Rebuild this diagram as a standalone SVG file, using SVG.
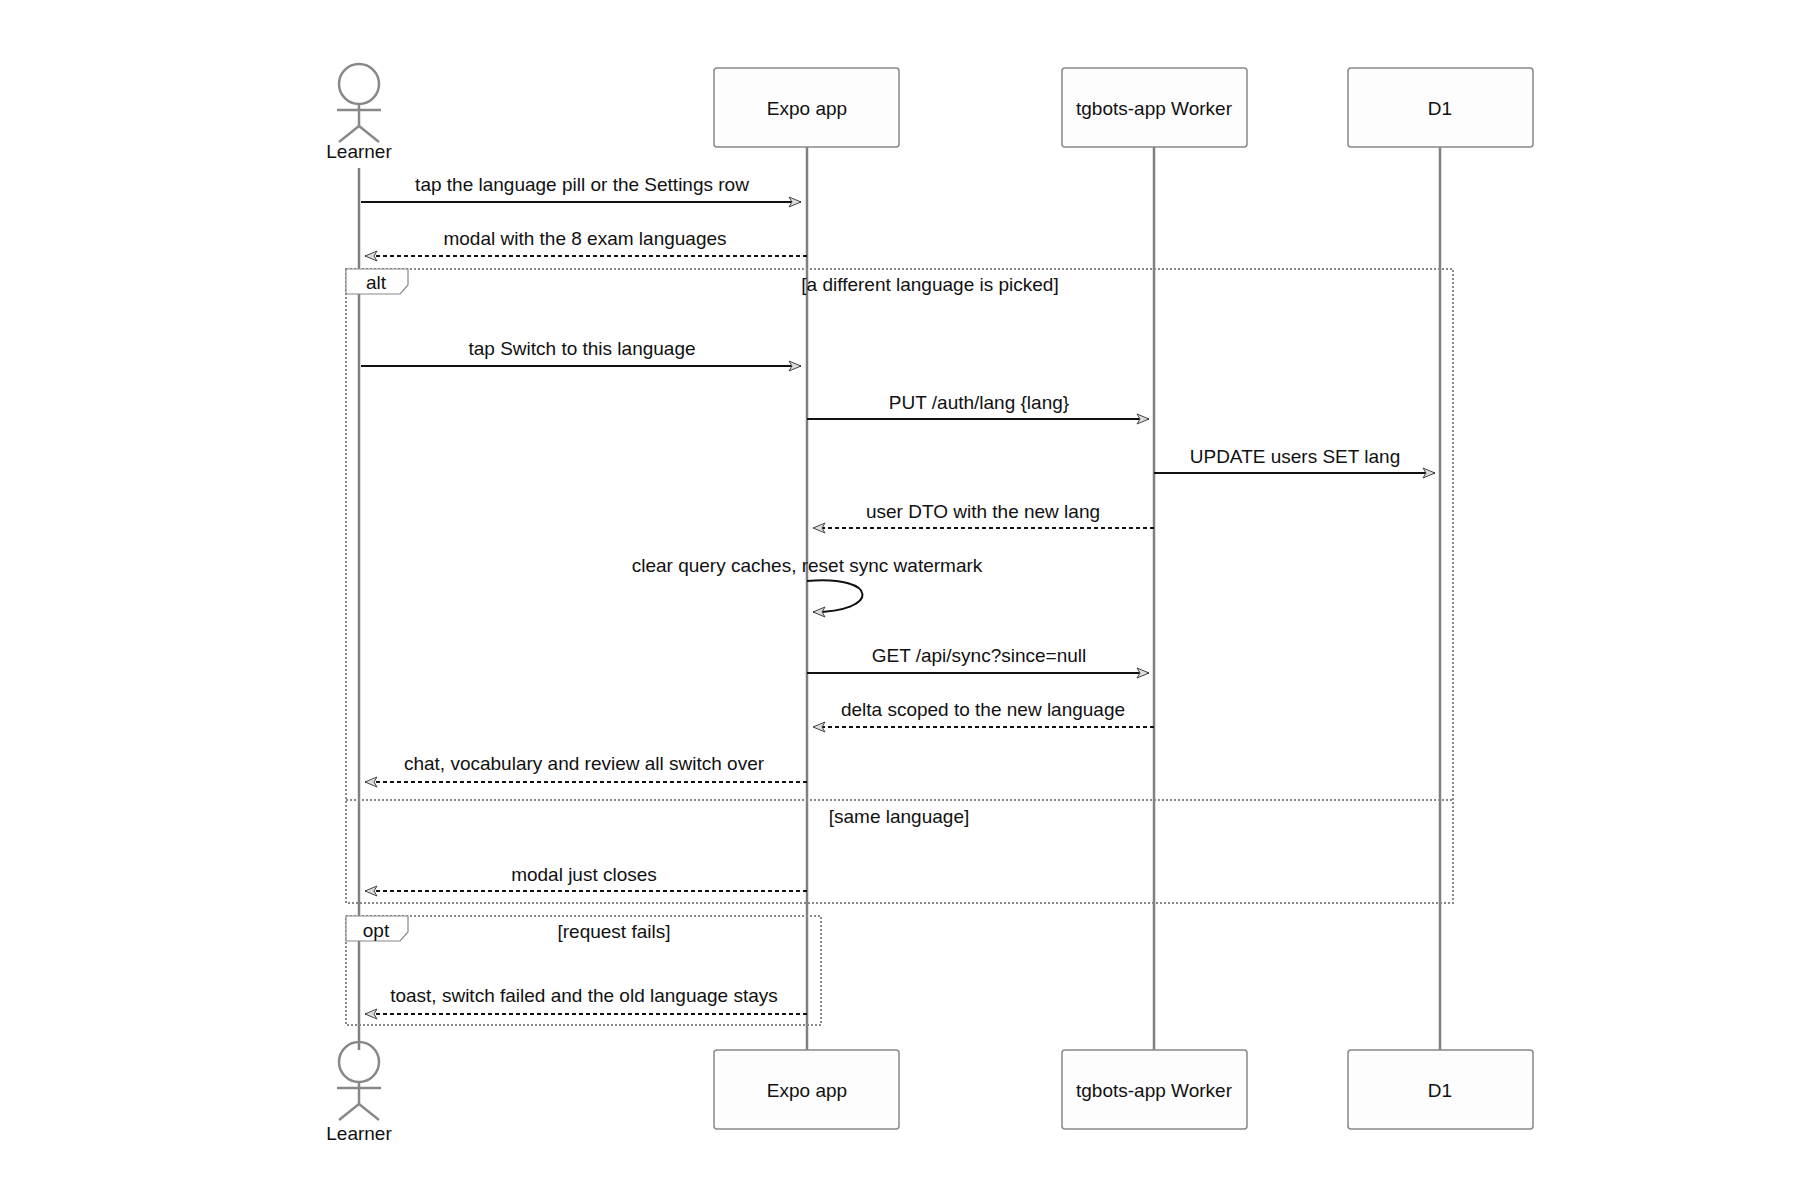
<svg xmlns="http://www.w3.org/2000/svg" width="1800" height="1200" viewBox="0 0 1800 1200">
<style>
text{font-family:"Liberation Sans",Arial,sans-serif;font-size:19px;fill:#111;text-anchor:middle;dominant-baseline:central}
.box{fill:#fdfdfd;stroke:#888;stroke-width:1.5}
.life{stroke:#808080;stroke-width:2.5}
.msg{stroke:#111;stroke-width:2;fill:none;marker-end:url(#ah)}
.dash{stroke-dasharray:4,3}
.frame{fill:none;stroke:#888;stroke-width:2;stroke-dasharray:2,2}
.lab{fill:#fff;stroke:#888;stroke-width:1.2}
.actor{fill:none;stroke:#888;stroke-width:2.5}
</style>
<defs>
<marker id="ah" markerWidth="14" markerHeight="12" refX="13" refY="6" orient="auto" markerUnits="userSpaceOnUse">
<path d="M1,1 L13,6 L1,11 L4,6 Z" fill="#ddd" stroke="#444" stroke-width="1"/>
</marker>
</defs>
<g id="lifelines">
<line class="life" x1="359" y1="168" x2="359" y2="1050"/>
<line class="life" x1="807" y1="147" x2="807" y2="1050"/>
<line class="life" x1="1154" y1="147" x2="1154" y2="1050"/>
<line class="life" x1="1440" y1="147" x2="1440" y2="1050"/>
</g>
<g id="learner-top"><circle class="actor" cx="359" cy="84" r="20"/><line class="actor" x1="359" y1="104" x2="359" y2="126"/><line class="actor" x1="337" y1="110" x2="381" y2="110"/><line class="actor" x1="359" y1="126" x2="339" y2="142"/><line class="actor" x1="359" y1="126" x2="379" y2="142"/><text x="359" y="151">Learner</text></g>
<g id="expo-top"><rect class="box" x="714" y="68" width="185" height="79" rx="3"/><text x="807" y="108">Expo app</text></g>
<g id="worker-top"><rect class="box" x="1062" y="68" width="185" height="79" rx="3"/><text x="1154" y="108">tgbots-app Worker</text></g>
<g id="d1-top"><rect class="box" x="1348" y="68" width="185" height="79" rx="3"/><text x="1440" y="108">D1</text></g>
<g id="learner-bottom"><circle class="actor" cx="359" cy="1062" r="20"/><line class="actor" x1="359" y1="1082" x2="359" y2="1104"/><line class="actor" x1="337" y1="1088" x2="381" y2="1088"/><line class="actor" x1="359" y1="1104" x2="339" y2="1120"/><line class="actor" x1="359" y1="1104" x2="379" y2="1120"/><text x="359" y="1133">Learner</text></g>
<g id="expo-bottom"><rect class="box" x="714" y="1050" width="185" height="79" rx="3"/><text x="807" y="1090">Expo app</text></g>
<g id="worker-bottom"><rect class="box" x="1062" y="1050" width="185" height="79" rx="3"/><text x="1154" y="1090">tgbots-app Worker</text></g>
<g id="d1-bottom"><rect class="box" x="1348" y="1050" width="185" height="79" rx="3"/><text x="1440" y="1090">D1</text></g>
<g id="frames">
<rect class="frame" x="346" y="269" width="1107" height="634"/>
<path class="lab" d="M346,269 H408 V285 L400,294 H346 Z"/><text x="376" y="282">alt</text>
<text x="930" y="284">[a different language is picked]</text>
<line class="frame" x1="346" y1="800" x2="1453" y2="800"/>
<text x="899" y="816">[same language]</text>
<rect class="frame" x="346" y="916" width="475" height="109"/>
<path class="lab" d="M346,916 H408 V932 L400,941 H346 Z"/><text x="376" y="930">opt</text>
<text x="614" y="931">[request fails]</text>
</g>
<g id="connectors">
<line class="msg" x1="361" y1="202" x2="801" y2="202"/><text x="582" y="184">tap the language pill or the Settings row</text>
<line class="msg dash" x1="807" y1="256" x2="365" y2="256"/><text x="585" y="238">modal with the 8 exam languages</text>
<line class="msg" x1="361" y1="366" x2="801" y2="366"/><text x="582" y="348">tap Switch to this language</text>
<line class="msg" x1="807" y1="419" x2="1149" y2="419"/><text x="979" y="402">PUT /auth/lang {lang}</text>
<line class="msg" x1="1154" y1="473" x2="1435" y2="473"/><text x="1295" y="456">UPDATE users SET lang</text>
<line class="msg dash" x1="1154" y1="528" x2="813" y2="528"/><text x="983" y="511">user DTO with the new lang</text>
<path class="msg" d="M807,581 C880,575 880,612 813,612"/><text x="807" y="565">clear query caches, reset sync watermark</text>
<line class="msg" x1="807" y1="673" x2="1149" y2="673"/><text x="979" y="655">GET /api/sync?since=null</text>
<line class="msg dash" x1="1154" y1="727" x2="813" y2="727"/><text x="983" y="709">delta scoped to the new language</text>
<line class="msg dash" x1="807" y1="782" x2="365" y2="782"/><text x="584" y="763">chat, vocabulary and review all switch over</text>
<line class="msg dash" x1="807" y1="891" x2="365" y2="891"/><text x="584" y="874">modal just closes</text>
<line class="msg dash" x1="807" y1="1014" x2="365" y2="1014"/><text x="584" y="995">toast, switch failed and the old language stays</text>
</g>
</svg>
